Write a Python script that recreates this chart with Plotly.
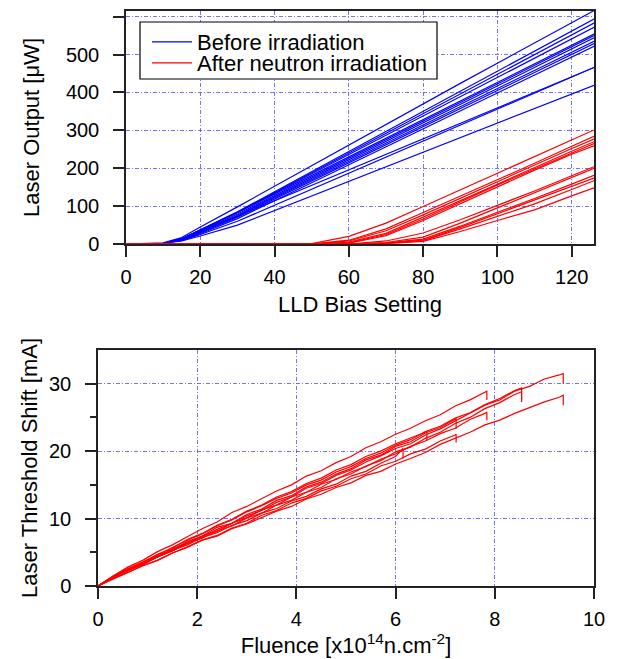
import plotly.graph_objects as go

# ---------------- Top panel data: laser output vs LLD bias setting ----------------
LLD_BLUE_X = [0, 10, 15, 20, 30, 60, 90, 126]
BLUE_CURVES = [
    [0, 3, 17, 45, 98, 261, 424, 616],
    [0, 2, 14, 38, 85, 244, 403, 594],
    [0, 2, 14, 37, 84, 240, 396, 583],
    [0, 2, 13, 36, 83, 236, 389, 572],
    [0, 2, 14, 37, 83, 230, 377, 554],
    [0, 2, 13, 34, 79, 226, 373, 550],
    [0, 2, 12, 32, 76, 222, 368, 544],
    [0, 2, 12, 31, 74, 218, 362, 535],
    [0, 2, 11, 29, 71, 214, 357, 529],
    [0, 2, 10, 27, 67, 209, 351, 522],
    [0, 2, 13, 34, 73, 196, 319, 466],
    [0, 2, 9, 25, 60, 187, 314, 466],
    [0, 2, 8, 21, 50, 165, 280, 419],
]

LLD_RED_X = [0, 50, 60, 70, 80, 90, 100, 110, 120, 126]
RED_CURVES = [
    [0, 1, 20, 55, 99, 143, 187, 231, 275, 301],
    [0, 0, 10, 40, 83, 126, 169, 213, 258, 284],
    [0, 0, 8, 35, 77, 121, 165, 209, 252, 277],
    [0, 0, 5, 28, 71, 115, 159, 202, 245, 270],
    [0, 0, 3, 25, 66, 111, 156, 198, 240, 265],
    [0, 0, 2, 22, 62, 107, 152, 195, 237, 259],
    [0, 0, 0, 8, 29, 64, 101, 140, 180, 204],
    [0, 0, 0, 4, 18, 55, 95, 135, 176, 200],
    [0, 0, 0, 3, 13, 47, 83, 120, 158, 181],
    [0, 0, 0, 2, 10, 44, 80, 115, 152, 174],
    [0, 0, 0, 2, 9, 40, 73, 106, 144, 167],
    [0, 0, 0, 1, 7, 33, 62, 90, 127, 148],
]

# ---------------- Bottom panel data: threshold shift vs fluence ----------------
FLUENCE_GRID = [0.0, 0.3, 0.6, 0.9, 1.2, 1.5, 1.8, 2.1, 2.4, 2.7, 3.0, 3.3, 3.6, 3.9,
                4.2, 4.5, 4.8, 5.1, 5.4, 5.7, 6.0, 6.3, 6.6, 6.9, 7.2, 7.5, 7.8, 8.1,
                8.4, 8.7, 9.0, 9.3]
END_FLUENCE = [9.38, 9.38, 7.84, 7.84, 8.54, 7.22, 7.22, 6.63, 6.15, 8.54]
# each list: values on FLUENCE_GRID, then the final value and the drop at END_FLUENCE
SHIFT_K1 = [0, 1.2, 2.3, 3.1, 4.4, 5.2, 6.5, 7.3, 8.4, 9.3, 10.4, 11.2, 12.4, 13.2, 14.5, 15.2,
            16.4, 17.2, 18.4, 19.3, 20.4, 21.1, 22.4, 23.3, 24.5, 25.6, 26.8, 27.6, 28.9, 29.6,
            30.7, 31.3, 31.5, 30.0]
SHIFT_K2 = [0, 1.1, 2.0, 3.0, 3.8, 4.9, 5.8, 6.8, 7.4, 8.5, 9.2, 10.2, 11.1, 11.8, 12.9, 13.6,
            14.6, 15.3, 16.4, 17.0, 18.1, 18.9, 19.8, 21.0, 21.9, 22.8, 23.9, 24.6, 25.6, 26.5,
            27.3, 28.0, 28.3, 26.8]
SHIFT_K3 = [0, 1.5, 2.8, 3.8, 5.1, 6.1, 7.3, 8.5, 9.5, 10.9, 11.8, 12.9, 14.1, 15.0, 16.3, 17.1,
            18.3, 19.2, 20.5, 21.4, 22.5, 23.4, 24.5, 25.4, 26.7, 27.6, 28.7, 28.9, 27.6]
SHIFT_K4 = [0, 1.3, 2.2, 3.4, 4.3, 5.5, 6.3, 7.4, 8.1, 9.3, 10.1, 11.3, 12.0, 13.2, 13.9, 15.1,
            15.8, 16.9, 17.7, 18.8, 19.6, 20.7, 21.5, 22.6, 23.4, 24.7, 25.6, 25.8, 24.6]
SHIFT_K5 = [0, 1.4, 2.5, 3.5, 4.6, 5.7, 6.8, 7.7, 8.9, 9.8, 11.0, 11.9, 13.0, 13.8, 15.0, 15.7,
            16.9, 17.7, 18.9, 19.7, 20.9, 21.7, 22.9, 23.7, 24.9, 25.7, 26.9, 27.8, 29.0, 29.4, 27.3]
SHIFT_K6 = [0, 1.2, 2.4, 3.3, 4.5, 5.4, 6.6, 7.4, 8.7, 9.3, 10.6, 11.4, 12.7, 13.4, 14.7, 15.4,
            16.6, 17.4, 18.7, 19.4, 20.7, 21.4, 22.7, 23.5, 24.7, 24.8, 23.3]
SHIFT_K7 = [0, 1.0, 1.9, 3.0, 3.8, 4.9, 5.7, 6.8, 7.5, 8.6, 9.3, 10.5, 11.2, 12.3, 13.0, 14.1,
            14.8, 15.9, 16.6, 17.8, 18.5, 19.6, 20.3, 21.5, 22.4, 22.5, 21.3]
SHIFT_K8 = [0, 1.4, 2.6, 3.5, 4.7, 5.6, 6.9, 7.8, 9.0, 9.9, 11.1, 12.0, 13.2, 14.0, 15.2, 16.0,
            17.2, 18.0, 19.2, 20.0, 21.1, 21.9, 22.8, 22.9, 21.6]
SHIFT_K9 = [0, 1.3, 2.3, 3.3, 4.2, 5.3, 6.1, 7.2, 7.9, 9.0, 9.7, 10.8, 11.5, 12.6, 13.3, 14.4,
            15.1, 16.3, 17.0, 18.2, 19.2, 20.4, 18.9]
SHIFT_K10 = [0, 1.2, 2.3, 3.2, 4.3, 5.2, 6.3, 7.1, 8.2, 8.9, 10.1, 10.8, 12.0, 12.7, 13.9, 14.6,
             15.9, 16.6, 17.8, 18.6, 19.9, 20.6, 21.9, 22.8, 24.1, 25.0, 26.3, 27.2, 28.4, 28.8, 27.5]
SHIFT_CURVES = [SHIFT_K1, SHIFT_K2, SHIFT_K3, SHIFT_K4, SHIFT_K5,
                SHIFT_K6, SHIFT_K7, SHIFT_K8, SHIFT_K9, SHIFT_K10]

TOP_XTICKS = [0, 20, 40, 60, 80, 100, 120]
TOP_YTICKS = [0, 100, 200, 300, 400, 500, 600]
BOT_XTICKS = [0, 2, 4, 6, 8, 10]
BOT_YTICKS = [0, 10, 20, 30]

BLUE = "rgb(0,0,255)"
RED = "rgb(255,0,0)"
FONT = "Arial, Liberation Sans, sans-serif"

fig = go.Figure()

for i, ys in enumerate(BLUE_CURVES):
    fig.add_trace(go.Scatter(x=LLD_BLUE_X, y=ys, mode="lines", xaxis="x", yaxis="y",
                             line=dict(color=BLUE, width=1.2),
                             name="Before irradiation", legend="legend",
                             showlegend=(i == 0)))
for i, ys in enumerate(RED_CURVES):
    fig.add_trace(go.Scatter(x=LLD_RED_X, y=ys, mode="lines", xaxis="x", yaxis="y",
                             line=dict(color=RED, width=1.2),
                             name="After neutron irradiation", legend="legend2",
                             showlegend=(i == 0)))

for ys, fend in zip(SHIFT_CURVES, END_FLUENCE):
    n = len(ys) - 2
    xs = FLUENCE_GRID[:n] + [fend, fend]
    fig.add_trace(go.Scatter(x=xs, y=ys, mode="lines", xaxis="x2", yaxis="y2",
                             line=dict(color=RED, width=1.2), showlegend=False))

# The page body has an 8 px margin, so layout pixel = screen pixel - 8
W, H = 619, 659
OFF = 8


def px_x(sx):
    return (sx - OFF) / W


def px_y(sy):
    return 1 - (sy - OFF) / H


GRID = "rgba(80,80,255,0.8)"
common = dict(showline=True, linecolor="#222", linewidth=1.5, mirror=True,
              ticks="outside", ticklen=11, tickwidth=1.5, tickcolor="#222",
              showgrid=True, gridcolor=GRID, gridwidth=1, griddash="4px,2px,1px,2px",
              zeroline=False, layer="below traces", automargin=False,
              tickfont=dict(family=FONT, size=20, color="black"))

legend_common = dict(xanchor="left", yanchor="middle", bgcolor="rgba(0,0,0,0)",
                     borderwidth=0, font=dict(family=FONT, size=22, color="black"),
                     itemwidth=40)

fig.update_layout(
    width=W, height=H,
    margin=dict(l=0, r=0, t=0, b=0, autoexpand=False),
    paper_bgcolor="white", plot_bgcolor="white",
    font=dict(family=FONT, color="black"),
    xaxis=dict(common, domain=[px_x(126), px_x(594)], range=[0, 126], tickvals=TOP_XTICKS,
               anchor="y", ticklabelstandoff=3,
               title=dict(text="LLD Bias Setting", font=dict(size=22), standoff=10)),
    yaxis=dict(common, domain=[px_y(244), px_y(11)], range=[0, 615], tickvals=TOP_YTICKS,
               anchor="x", ticklabelstandoff=10,
               title=dict(text="Laser Output [μW]", font=dict(size=22), standoff=20)),
    xaxis2=dict(common, domain=[px_x(98), px_x(594)], range=[0, 10], tickvals=BOT_XTICKS,
                anchor="y2", ticklabelstandoff=3,
                title=dict(text="Fluence [x10<sup>14</sup>n.cm<sup>-2</sup>]",
                           font=dict(size=22), standoff=3)),
    yaxis2=dict(common, domain=[px_y(586), px_y(350)], range=[0, 35], tickvals=BOT_YTICKS,
                anchor="x2", ticklabelstandoff=10,
                minor=dict(tickvals=[5, 15, 25], ticks="outside", ticklen=6, tickwidth=1.5,
                           tickcolor="#222", showgrid=False),
                title=dict(text="Laser Threshold Shift [mA]", font=dict(size=22), standoff=5)),
    legend=dict(legend_common, x=px_x(147), y=px_y(42)),
    legend2=dict(legend_common, x=px_x(147), y=px_y(63)),
    shapes=[dict(type="rect", xref="paper", yref="paper",
                 x0=px_x(140), x1=px_x(437), y0=px_y(79), y1=px_y(22),
                 line=dict(color="black", width=1.2), fillcolor="white", layer="above")],
)

fig.write_html("out.html")
